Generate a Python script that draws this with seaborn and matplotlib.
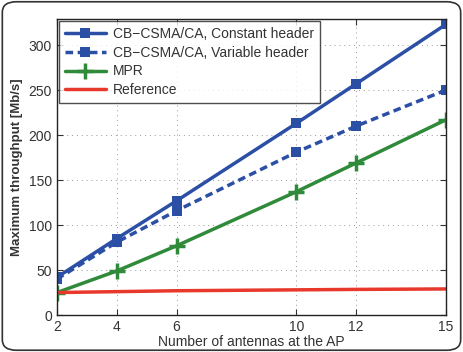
import matplotlib
matplotlib.use('Agg')
import matplotlib.pyplot as plt
import seaborn as sns
import pandas as pd
from matplotlib.patches import FancyBboxPatch

# data
antennas = [2, 4, 6, 10, 12, 15]
const_header = [42, 85, 127, 213, 257, 323]
var_header = [40, 81, 116, 181, 210, 250]
mpr = [25, 49, 77, 137, 169, 217]
reference = [25, 26, 27, 28, 28.5, 29]

sns.set_style('ticks')
plt.rcParams['font.family'] = ['Liberation Sans', 'DejaVu Sans']

blue = '#2C4FA6'
green = '#2F8A3A'
red = '#E8382B'

df = pd.DataFrame({'x': antennas, 'c': const_header, 'v': var_header,
                   'm': mpr, 'r': reference})

fig = plt.figure(figsize=(4.63, 3.52), dpi=100)
ax = fig.add_axes([0.123, 0.105, 0.84, 0.841])

sns.lineplot(data=df, x='x', y='c', ax=ax, color=blue, lw=2.5, marker='s',
             markersize=7, markeredgewidth=0, label='CB\u2212CSMA/CA, Constant header')
sns.lineplot(data=df, x='x', y='v', ax=ax, color=blue, lw=2.5, marker='s',
             markersize=7, markeredgewidth=0, linestyle=(0, (2.2, 1.3)),
             label='CB\u2212CSMA/CA, Variable header')
sns.lineplot(data=df, x='x', y='m', ax=ax, color=green, lw=2.5, marker='+',
             markersize=11, markeredgewidth=2.5, markeredgecolor=green, label='MPR')
sns.lineplot(data=df, x='x', y='r', ax=ax, color=red, lw=2.5, label='Reference')

ax.set_xlim(2, 15)
ax.set_ylim(0, 329)
ax.set_xticks(antennas)
ax.set_yticks([0, 50, 100, 150, 200, 250, 300])
ax.tick_params(direction='in', labelsize=10, length=4, colors='#333333', labelcolor='#333333')
ax.tick_params(top=True, right=True)
ax.grid(True, linestyle=(0, (1, 4)), color='#999999', lw=0.7)
for s in ax.spines.values():
    s.set_color('#222222')
    s.set_linewidth(1.0)
ax.set_xlabel('Number of antennas at the AP', fontsize=10, color='#333333', labelpad=1)
ax.set_ylabel('Maximum throughput [Mb/s]', fontsize=9.5, fontweight='bold',
              color='#333333', labelpad=4)

leg = ax.legend(loc='upper left', fontsize=10, frameon=True, fancybox=False,
                borderaxespad=0.15, handlelength=3.0, labelspacing=0.35,
                borderpad=0.4, handletextpad=0.5)
leg.get_frame().set_edgecolor('#222222')
leg.get_frame().set_linewidth(1.0)
for t in leg.get_texts():
    t.set_color('#333333')

box = FancyBboxPatch((0.005, 0.005), 0.99, 0.99, boxstyle='round,pad=0,rounding_size=0.03',
                     transform=fig.transFigure, fill=False, ec='#333333', lw=1.2)
fig.patches.append(box)

fig.savefig('out.png', dpi=100)
